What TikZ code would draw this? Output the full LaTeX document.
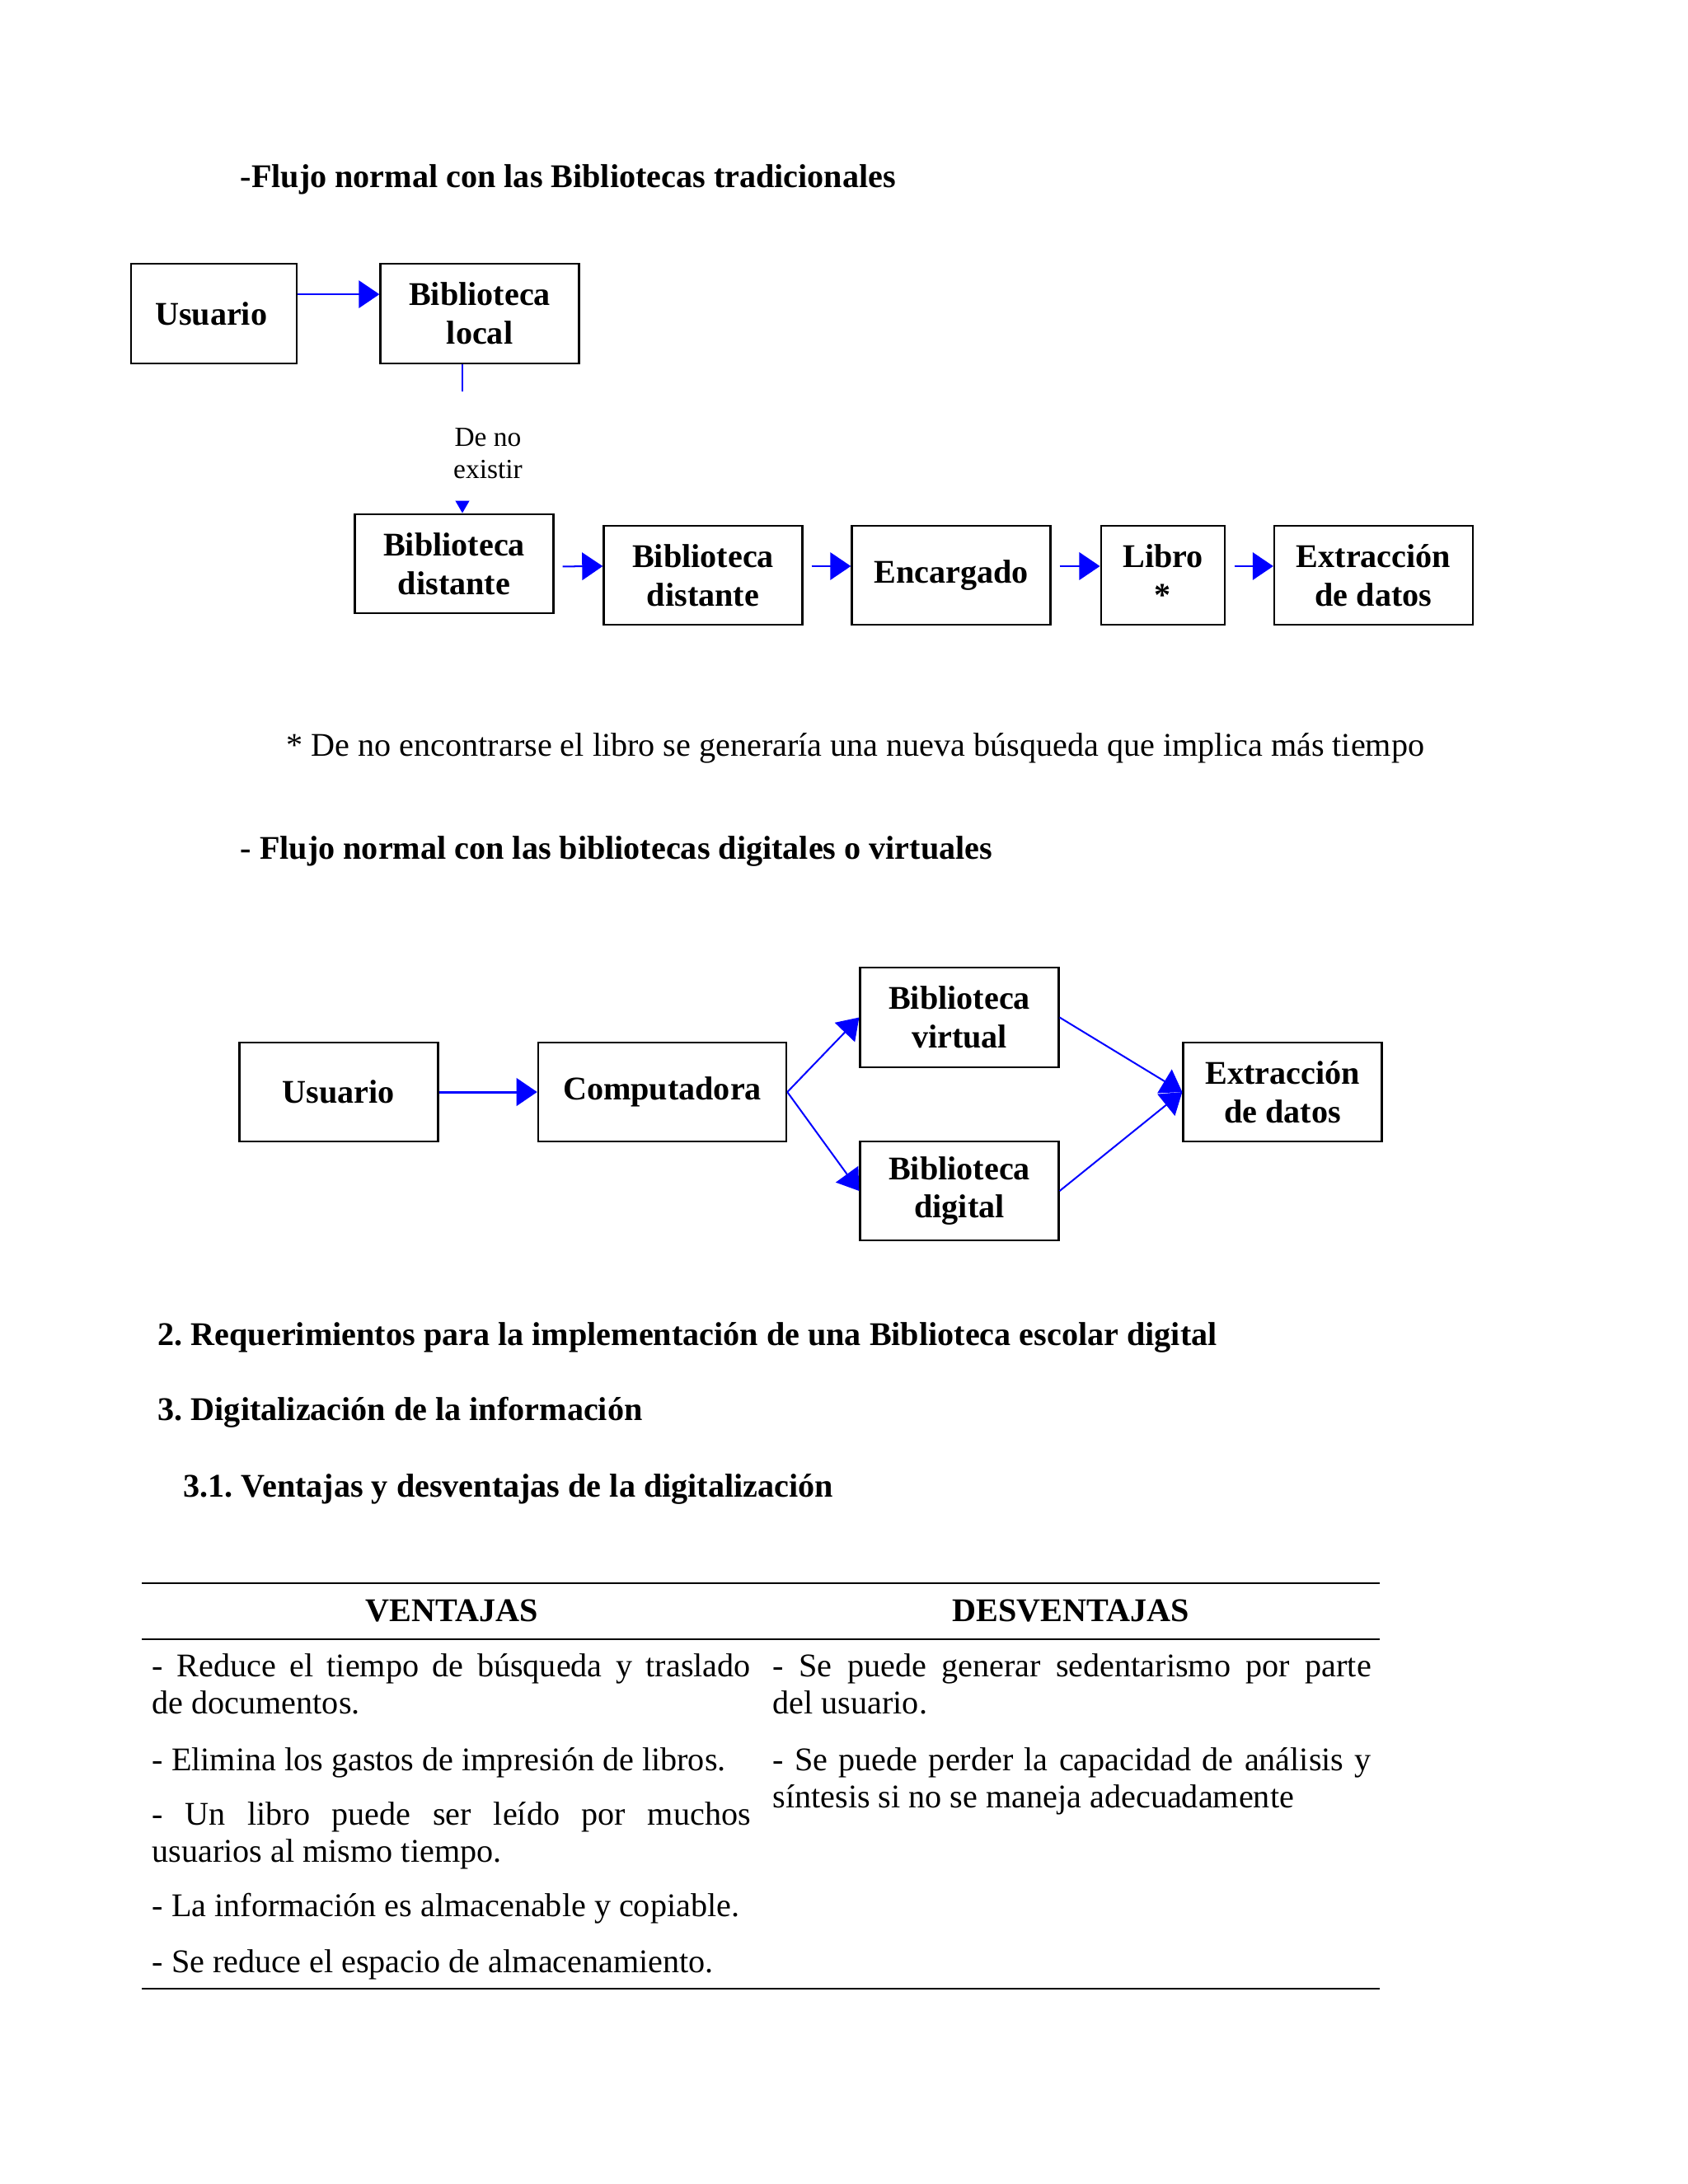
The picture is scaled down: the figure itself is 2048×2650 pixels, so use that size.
\documentclass[tikz,border=0pt]{standalone}
\usepackage{fontspec}
\setmainfont{Liberation Serif}
\usetikzlibrary{arrows.meta}
\frenchspacing

\begin{document}
\begin{tikzpicture}[x=0.29883pt,y=-0.29883pt,>={Triangle[length=7.5pt,width=10pt]},
  caja/.style={draw,line width=0.7pt,minimum width=72pt,minimum height=36pt,inner sep=2pt,align=center,font=\bfseries\fontsize{12}{14}\selectfont},
  flecha/.style={->,blue,line width=0.6pt},
  titulo/.style={anchor=base west,inner sep=0pt,font=\bfseries\fontsize{12}{14}\selectfont},
  celda/.style={anchor=base west,inner sep=0pt,text width=217pt,align=justify,font=\fontsize{12}{13.7}\selectfont}]
\useasboundingbox (0,0) rectangle (2048,2650);

% flujo tradicional
\node[titulo] (t1) at (291,227) {-Flujo normal con las Bibliotecas tradicionales};
\node[caja,minimum width=60pt] (U1) at (259.5,380.5) {Usuario\hspace*{2pt}};
\node[caja] (BL) at (582,380.5) {Biblioteca\\local};
\node[caja] (BD1) at (551,684) {Biblioteca\\distante};
\node[caja] (BD2) at (853,698) {Biblioteca\\distante};
\node[caja] (Enc) at (1154,698) {Encargado};
\node[caja,minimum width=45pt] (Lib) at (1411,698) {Libro\\*};
\node[caja] (Ext1) at (1666.5,698) {Extracción\\de datos};
\node[align=center,inner sep=0pt,font=\fontsize{10}{11.6}\selectfont] (noex) at (592,550) {De no\\existir};
\coordinate (c1) at (561,475);
\coordinate (c2) at (561,609);
\draw[flecha] ([yshift=7pt]U1.east) -- ([yshift=7pt]BL.west);
\draw[blue,line width=0.6pt] (BL.south -| c1) -- (c1);
\draw[flecha,>={Triangle[length=4.5pt,width=5pt]}] (c2) -- (c2 |- BD1.north);
\draw[flecha] ([xshift=3pt,yshift=-1pt]BD1.east) -- ([yshift=3.3pt]BD2.west);
\draw[flecha] ([xshift=3pt,yshift=3.3pt]BD2.east) -- ([yshift=3.3pt]Enc.west);
\draw[flecha] ([xshift=3pt,yshift=3.3pt]Enc.east) -- ([yshift=3.3pt]Lib.west);
\draw[flecha] ([xshift=3pt,yshift=3.3pt]Lib.east) -- ([yshift=3.3pt]Ext1.west);
\node[anchor=base west,inner sep=0pt,font=\fontsize{12}{14}\selectfont] (nota) at (347,917) {* De no encontrarse el libro se generaría una nueva búsqueda que implica más tiempo};

% flujo digital
\node[titulo] (t2) at (291,1042) {- Flujo normal con las bibliotecas digitales o virtuales};
\node[caja] (U2) at (411,1325) {Usuario};
\node[caja,minimum width=90pt] (Comp) at (803.5,1325) {Computadora};
\node[caja] (BV) at (1164,1234.5) {Biblioteca\\virtual};
\node[caja] (BDig) at (1164,1445) {Biblioteca\\digital};
\node[caja] (Ext2) at (1556,1325) {Extracción\\de datos};
\draw[flecha,line width=0.9pt] (U2) -- (Comp);
\draw[flecha] (Comp.east) -- (BV.west);
\draw[flecha] (Comp.east) -- (BDig.west);
\draw[flecha] (BV.east) -- (Ext2.west);
\draw[flecha] (BDig.east) -- (Ext2.west);

% secciones
\node[titulo] (s2) at (191,1632) {2. Requerimientos para la implementación de una Biblioteca escolar digital};
\node[titulo] (s3) at (191,1723) {3. Digitalización de la información};
\node[titulo] (s31) at (222,1816) {3.1. Ventajas y desventajas de la digitalización};

% tabla
\draw[line width=0.6pt] (172,1921) -- (1674,1921);
\draw[line width=0.6pt] (172,1989) -- (1674,1989);
\draw[line width=0.6pt] (172,2413) -- (1674,2413);
\node[font=\bfseries\fontsize{12}{14}\selectfont,anchor=base,inner sep=0pt] (hv) at (548,1967) {VENTAJAS};
\node[font=\bfseries\fontsize{12}{14}\selectfont,anchor=base,inner sep=0pt] (hd) at (1299,1967) {DESVENTAJAS};
\node[celda] (v1) at (184,2034) {- Reduce el tiempo de búsqueda y traslado\linebreak de documentos.};
\node[celda] (v2) at (184,2148) {- Elimina los gastos de impresión de libros.};
\node[celda] (v3) at (184,2214) {- Un libro puede ser leído por muchos\linebreak usuarios al mismo tiempo.};
\node[celda] (v4) at (184,2325) {- La información es almacenable y copiable.};
\node[celda] (v5) at (184,2393) {- Se reduce el espacio de almacenamiento.};
\node[celda] (d1) at (937,2034) {- Se puede generar sedentarismo por parte\linebreak del usuario.};
\node[celda] (d2) at (937,2148) {- Se puede perder la capacidad de análisis y\linebreak síntesis si no se maneja adecuadamente};
\end{tikzpicture}
\end{document}
